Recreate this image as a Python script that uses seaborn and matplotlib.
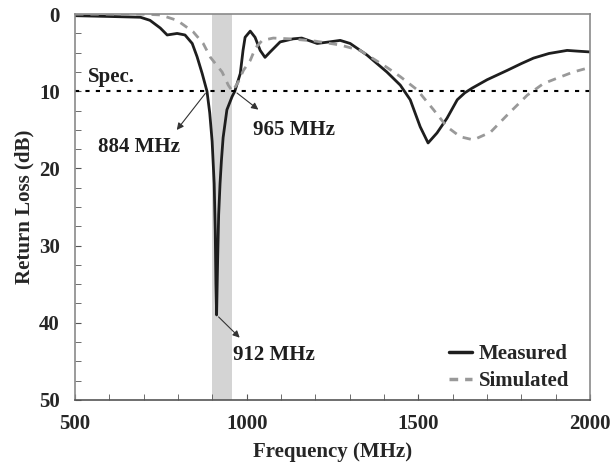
import numpy as np
import pandas as pd
import matplotlib
matplotlib.use("Agg")
import matplotlib.pyplot as plt
from matplotlib.ticker import MultipleLocator
from matplotlib.lines import Line2D
import seaborn as sns

# Measured return loss
meas_freq = [500, 600, 690, 718, 748, 768, 797, 820, 841, 855, 870, 884, 892, 899,
             905, 908, 910, 912, 915, 918, 922, 926, 931, 942, 957, 965, 981, 989,
             995, 1010, 1024, 1039, 1053, 1068, 1097, 1135, 1160, 1205, 1240,
             1272, 1301, 1350, 1408, 1447, 1476, 1505, 1528, 1554, 1583, 1613,
             1635, 1656, 1700, 1758, 1800, 1835, 1880, 1933, 1965, 2000]
meas_rl = [0.2, 0.3, 0.4, 0.8, 1.8, 2.7, 2.5, 2.7, 3.8, 5.5, 7.7, 10.0, 12.8, 16.5,
           22.0, 28.0, 35.0, 39.0, 32.0, 26.0, 22.0, 19.0, 16.0, 12.4, 10.7, 10.0,
           7.7, 4.7, 3.0, 2.2, 3.0, 4.7, 5.6, 4.9, 3.6, 3.2, 3.1, 3.8, 3.6,
           3.4, 3.8, 5.3, 7.5, 9.2, 11.1, 14.6, 16.7, 15.4, 13.5, 11.1,
           10.2, 9.6, 8.5, 7.3, 6.4, 5.7, 5.1, 4.7, 4.8, 4.9]

# Simulated return loss
sim_freq = [500, 600, 700, 748, 797, 844, 873, 894, 928, 946, 958, 975, 990,
            1010, 1025, 1045, 1077, 1126, 1200, 1272, 1330, 1408, 1447, 1496,
            1544, 1583, 1622, 1660, 1710, 1758, 1817, 1864, 1904, 1951, 2000]
sim_rl = [0.0, 0.0, 0.0, 0.1, 0.8, 2.3, 3.8, 5.6, 7.5, 9.2, 10.0, 8.8, 7.3,
          6.0, 4.4, 3.4, 3.1, 3.2, 3.5, 4.0, 4.7, 6.9, 8.1, 9.8,
          12.4, 14.6, 15.9, 16.3, 15.3, 13.1, 10.5, 9.0, 8.3, 7.5, 6.9]

spec_level = 10
band = (900, 958)

df = pd.concat([
    pd.DataFrame({"Frequency": meas_freq, "RL": meas_rl, "Type": "Measured"}),
    pd.DataFrame({"Frequency": sim_freq, "RL": sim_rl, "Type": "Simulated"}),
])

sns.set_style("ticks")
plt.rcParams["font.family"] = ["Liberation Serif", "DejaVu Serif"]
plt.rcParams["font.weight"] = "bold"

fig = plt.figure(figsize=(6.16, 4.72), dpi=100)
ax = fig.add_axes([0.122, 0.153, 0.836, 0.817])

ax.axvspan(*band, color="#d4d4d4", lw=0, zorder=0)
sns.lineplot(data=df, x="Frequency", y="RL", hue="Type", style="Type",
             palette={"Measured": "#1e1e1e", "Simulated": "#999999"},
             dashes={"Measured": "", "Simulated": (3, 2.5)},
             linewidth=2, ax=ax, legend=False, sort=False)
ax.axhline(spec_level, color="black", ls=(0, (2, 3)), lw=1.5)

ax.set_xlim(500, 2000)
ax.set_ylim(50, 0)
ax.xaxis.set_major_locator(MultipleLocator(500))
ax.xaxis.set_minor_locator(MultipleLocator(100))
ax.yaxis.set_major_locator(MultipleLocator(10))
ax.yaxis.set_minor_locator(MultipleLocator(2.5))
ax.tick_params(which="both", direction="in", length=4, color="#555555",
               labelsize=15)
ax.tick_params(axis="x", pad=10)
ax.tick_params(axis="y", pad=11)
for s in ax.spines.values():
    s.set_color("#8a8a8a")
    s.set_linewidth(1.2)
ax.spines["bottom"].set_color("#555555")

ax.set_xlabel("Frequency (MHz)", fontsize=15, fontweight="bold", labelpad=6)
ax.set_ylabel("Return Loss (dB)", fontsize=15, fontweight="bold", labelpad=3)

txt = dict(fontsize=15, fontweight="bold", color="#1e1e1e", va="baseline")
arw = dict(arrowstyle="-|>", color="#333333", lw=0.8, mutation_scale=10)
ax.text(538, 8.8, "Spec.", **txt)
ax.text(567, 17.9, "884 MHz", **txt)
ax.annotate("", xy=(791, 15.3), xytext=(884, 10), arrowprops=arw)
ax.text(1019, 15.7, "965 MHz", **txt)
ax.annotate("", xy=(1040, 12.6), xytext=(965, 10), arrowprops=arw)
ax.text(960, 44.8, "912 MHz", **txt)
ax.annotate("", xy=(985, 42.2), xytext=(912, 39), arrowprops=arw)

# legend
handles = [Line2D([], [], color="#1e1e1e", lw=2.5),
           Line2D([], [], color="#999999", lw=2.5, ls=(0, (2.5, 2)))]
ax.legend(handles, ["Measured", "Simulated"], loc="lower right",
          bbox_to_anchor=(0.975, 0.0), frameon=False,
          handlelength=1.1, handletextpad=0.3, fontsize=15,
          borderaxespad=0.0, labelspacing=0.35)

fig.savefig("out.png", dpi=100)
